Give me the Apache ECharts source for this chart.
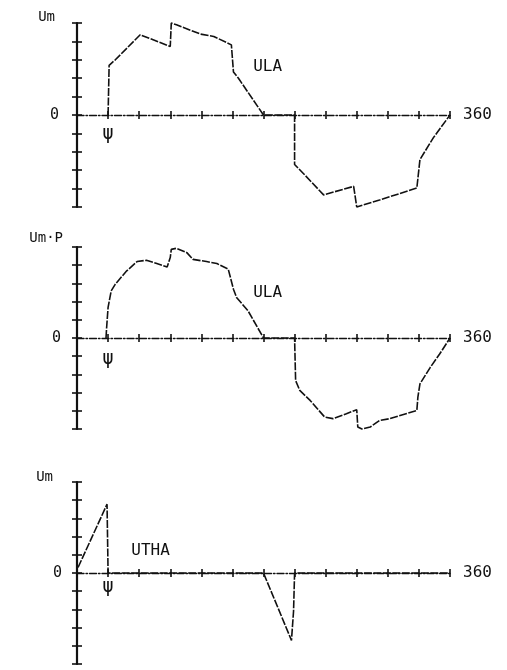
<!DOCTYPE html>
<html><head><meta charset="utf-8">
<script src="https://cdn.jsdelivr.net/npm/echarts@6/dist/echarts.min.js"></script>
<style>html,body{margin:0;padding:0;background:#fff}#c{width:507px;height:670px}</style>
</head><body><div id="c"></div>
<script>
// ---- data ----
const psiAngle = 30;
const endLabel = '360';
const yAxisNames = ['Um', 'Um·P', 'Um'];
const curveNames = ['ULA', 'ULA', 'UTHA'];
const curveLabelAt = [[184, 2.6], [184, 2.5], [71, 1.2]];
const psiLabelY = [-1.03, -1.15, -0.8];

const ula1X = [30, 31, 37, 61, 90, 91, 96, 119, 132, 149, 151, 156, 180, 210, 210, 218, 238, 267, 270, 292, 328, 331, 344, 360];
const ula1Y = [0, 2.7, 3.0, 4.36, 3.72, 5.0, 4.9, 4.4, 4.27, 3.81, 2.34, 1.98, 0, 0, -2.69, -3.15, -4.34, -3.88, -5.0, -4.62, -3.97, -2.42, -1.23, 0];

const ula2X = [28, 28.6, 30, 33, 37, 48, 58, 67, 77, 87, 90, 91, 96, 106, 112, 125, 135, 146, 151, 154, 165, 180, 210, 211, 215, 225, 239, 247, 260, 270, 271, 275, 283, 292, 302, 328, 329, 331, 341, 350, 360];
const ula2Y = [0, 0.58, 1.68, 2.59, 2.96, 3.69, 4.2, 4.27, 4.09, 3.9, 4.42, 4.87, 4.93, 4.69, 4.32, 4.2, 4.09, 3.78, 2.68, 2.23, 1.5, 0, 0, -2.34, -2.88, -3.43, -4.34, -4.43, -4.16, -3.94, -4.89, -5.0, -4.89, -4.53, -4.43, -3.98, -3.25, -2.52, -1.61, -0.88, 0];

const utha3X = [1, 29, 30, 180, 207, 209, 210, 360];
const utha3Y = [0.3, 3.78, 0, 0, -3.7, -2.1, 0, 0];

const seriesX = [ula1X, ula2X, utha3X];
const seriesY = [ula1Y, ula2Y, utha3Y];

// ---- layout / style ----
const INK = '#111';
const FONT = 'DejaVu Sans Mono';
const layout = [
  { top: 23, height: 184, nameGap: 6, nameOff: 22, zeroMargin: 18 },
  { top: 247, height: 182, nameGap: 9, nameOff: 14, zeroMargin: 16 },
  { top: 482, height: 182, nameGap: 5, nameOff: 24, zeroMargin: 15 }
];
const txt = (size) => ({ color: INK, fontFamily: FONT, fontSize: size });

const grid = [], xAxis = [], yAxis = [], series = [];
layout.forEach((L, i) => {
  grid.push({ left: 77, top: L.top, width: 373, height: L.height, containLabel: false, outerBoundsMode: 'none' });
  xAxis.push({
    gridIndex: i, type: 'value', min: 0, max: 360, interval: 30, position: 'bottom',
    axisLine: { show: true, onZero: true, onZeroAxisIndex: 2 * i, lineStyle: { color: INK, width: 1.4, type: [7, 2, 1.5, 2] } },
    axisTick: { show: true, inside: false, length: 4, lineStyle: { color: INK, width: 1.6 } },
    axisLabel: { show: false },
    splitLine: { show: false },
    name: endLabel, nameLocation: 'end', nameGap: 13, nameTextStyle: txt(16)
  });
  xAxis.push({
    gridIndex: i, type: 'value', min: 0, max: 360, interval: 30, position: 'top',
    axisLine: { show: false, onZero: true, onZeroAxisIndex: 2 * i },
    axisTick: { show: true, inside: false, length: 4, lineStyle: { color: INK, width: 1.6 } },
    axisLabel: { show: false }, splitLine: { show: false }
  });
  yAxis.push({
    gridIndex: i, type: 'value', min: -5, max: 5, interval: 1, position: 'left',
    axisLine: { show: true, onZero: false, lineStyle: { color: INK, width: 2.2 } },
    axisTick: { show: true, inside: false, length: 5, lineStyle: { color: INK, width: 1.6 } },
    axisLabel: { formatter: v => (v === 0 ? '0' : ''), margin: L.zeroMargin, ...txt(15) },
    splitLine: { show: false },
    name: yAxisNames[i], nameLocation: 'end', nameGap: L.nameGap,
    nameTextStyle: { ...txt(14), align: 'right', verticalAlign: 'middle', padding: [0, L.nameOff, 0, 0] }
  });
  yAxis.push({
    gridIndex: i, type: 'value', min: -5, max: 5, interval: 1, position: 'right',
    axisLine: { show: false, onZero: true, onZeroAxisIndex: 2 * i },
    axisTick: { show: true, inside: false, length: 5, lineStyle: { color: INK, width: 1.6 } },
    axisLabel: { show: false }, splitLine: { show: false }
  });
  const xs = seriesX[i], ys = seriesY[i];
  series.push({
    type: 'line', xAxisIndex: 2 * i, yAxisIndex: 2 * i,
    data: xs.map((x, k) => [x, ys[k]]),
    showSymbol: false, symbol: 'none', clip: false,
    lineStyle: { color: INK, width: 1.6, type: [8, 1.5] },
    markPoint: {
      symbol: 'circle', symbolSize: 0, silent: true,
      label: { show: true, position: 'inside', formatter: p => p.name, ...txt(16) },
      data: [
        { coord: curveLabelAt[i], name: curveNames[i] },
        { coord: [psiAngle, psiLabelY[i]], name: 'ψ', label: { fontSize: 19 } }
      ]
    }
  });
});

const chart = echarts.init(document.getElementById('c'), null, { renderer: 'canvas' });
chart.setOption({ backgroundColor: '#fff', animation: false, grid, xAxis, yAxis, series });
</script>
</body></html>
